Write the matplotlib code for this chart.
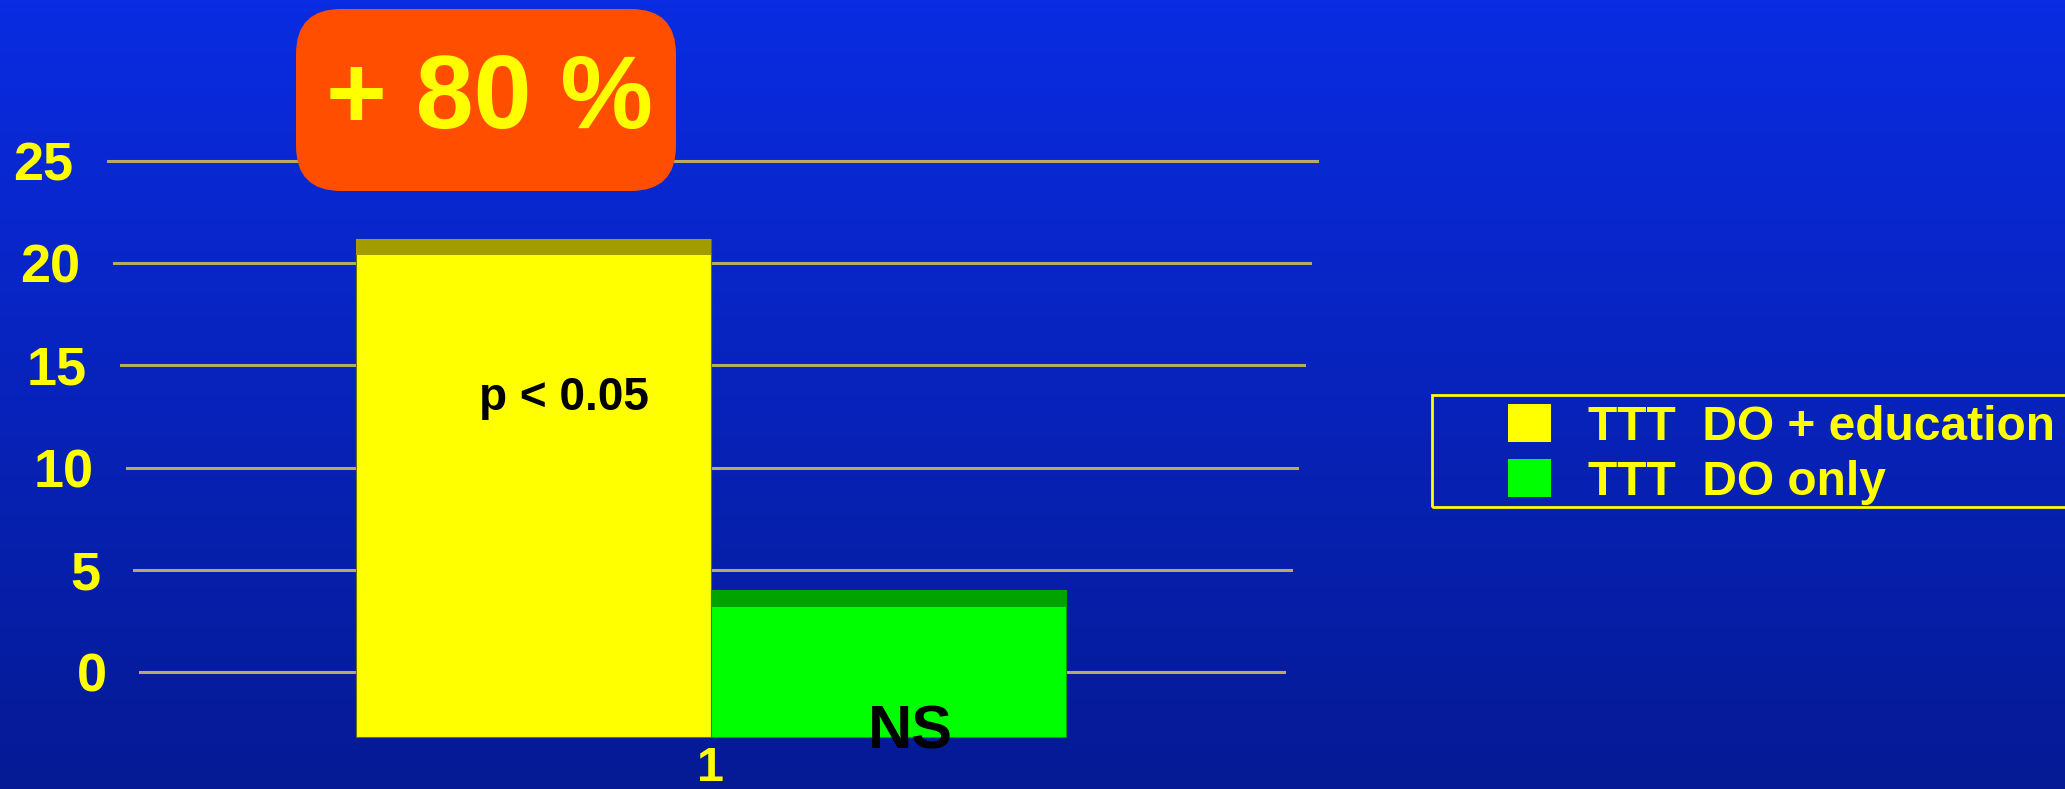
import matplotlib
matplotlib.use('Agg')
import matplotlib.pyplot as plt
import matplotlib.transforms as mtrans
import numpy as np
from matplotlib.patches import FancyBboxPatch, Rectangle, Patch

# ---------------- data ----------------
categories = ['1']
series_names = ['TTT  DO + education', 'TTT  DO only']
series_values = [21.2, 4.0]
y_ticks = [0, 5, 10, 15, 20, 25]
callout_text = '+ 80 %'
annotation_texts = ['p < 0.05', 'NS']

# ---------------- style ----------------
front_colors = ['#FFFF00', '#00FF00']
top_colors = ['#A29C00', '#00A400']
YELLOW = '#FFFF00'
GRID = '#B4AC64'
floor = -3.2          # 3-D floor of the bars
top_depth = 0.8       # depth of the bar top face

plt.rcParams['font.family'] = ['Liberation Sans', 'DejaVu Sans']
plt.rcParams['font.weight'] = 'bold'

fig = plt.figure(figsize=(20.65, 7.89), dpi=100)

# background gradient
bg = fig.add_axes([0, 0, 1, 1], zorder=-1)
g = np.linspace(0, 1, 256).reshape(-1, 1, 1)
c_top = np.array([10, 44, 226]) / 255
c_bot = np.array([5, 26, 148]) / 255
img = c_top * (1 - g) + c_bot * g
img = np.repeat(img, 2, axis=1)
bg.imshow(img, aspect='auto', extent=[0, 1, 0, 1])
bg.axis('off')

# main axes
ax = fig.add_axes([100 / 2065, 39 / 789, 1220 / 2065, 730 / 789], zorder=0)
ax.set_facecolor('none')
for s in ax.spines.values():
    s.set_visible(False)
ax.set_xlim(-0.689, 0.687)
ax.set_ylim(-3.816, 31.90)
ax.set_yticks([])
ax.set_xticks([0])
ax.set_xticklabels(categories, color=YELLOW, fontsize=35, fontweight='bold')
ax.tick_params(axis='x', length=0, pad=-3)

# gridlines (slight perspective) and y labels
yt = ax.get_yaxis_transform()
yt_lab = yt + mtrans.ScaledTranslation(0, -0.194, fig.dpi_scale_trans)
for v in y_ticks:
    l = 0.0328 - v * (0.0262 / 25)
    r = 0.9705 + v * (0.0270 / 25)
    ax.plot([l, r], [v, v], transform=yt, color=GRID, lw=2.2, zorder=1, clip_on=False)
    xr = 0.0057 - v * (0.0278 / 25)
    ax.text(xr, v, str(v), transform=yt_lab, ha='right', va='baseline', color=YELLOW,
            fontsize=39, fontweight='bold')

# bars
width = 0.4
xs = [-width / 2, width / 2]
for x, val, fc, tc in zip(xs, series_values, front_colors, top_colors):
    ax.bar(x, val - floor, bottom=floor, width=width, color=fc, zorder=3,
           edgecolor='#707000' if fc == '#FFFF00' else '#00A000', linewidth=0.8)
    ax.bar(x, top_depth, bottom=val - top_depth, width=width, color=tc, zorder=4,
           linewidth=0)

# annotations
ax.text(-0.166, 12.8, annotation_texts[0], ha='center', va='baseline', color='black',
        fontsize=33, fontweight='bold', zorder=6)
ax.text(0.225, -3.72, annotation_texts[1], ha='center', va='baseline', color='black',
        fontsize=44, fontweight='bold', zorder=6)

# callout box
box = FancyBboxPatch((2.96, 5.98), 3.80, 1.82,
                     boxstyle='round,pad=0,rounding_size=0.45',
                     fc='#FF4E00', ec='none', transform=fig.dpi_scale_trans, zorder=5)
fig.add_artist(box)
fig.text(4.895, 6.61, callout_text, transform=fig.dpi_scale_trans, ha='center',
         va='baseline', color=YELLOW, fontsize=75, fontweight='bold', zorder=6)

# legend
handles = [Patch(facecolor=c, edgecolor='none') for c in front_colors]
leg = fig.legend(handles, series_names, loc='upper left',
                 bbox_to_anchor=(1508 / 2065, 1 - 404 / 789), frameon=False,
                 labelcolor=YELLOW, handlelength=0.9, handleheight=0.85,
                 handletextpad=0.78, labelspacing=0.2, borderpad=0, borderaxespad=0,
                 prop={'weight': 'bold', 'size': 34.5})
frame = Rectangle((14.32, 2.82), 7.0, 1.12, fill=False, ec=YELLOW, lw=2,
                  transform=fig.dpi_scale_trans, zorder=5)
fig.add_artist(frame)

fig.savefig('out.png', dpi=100)
